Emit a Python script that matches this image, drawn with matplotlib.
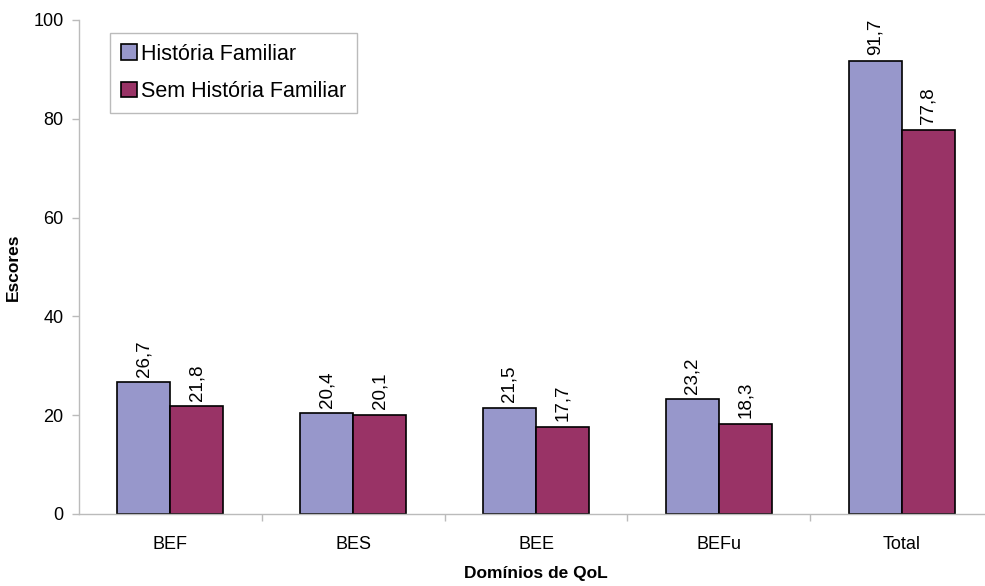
import numpy as np
import matplotlib.pyplot as plt

plt.rcParams['font.family'] = ['Liberation Sans', 'DejaVu Sans']

dominios = ['BEF', 'BES', 'BEE', 'BEFu', 'Total']
historia = [26.7, 20.4, 21.5, 23.2, 91.7]
sem_historia = [21.8, 20.1, 17.7, 18.3, 77.8]

cor_hist = '#9797CB'
cor_sem = '#993366'

fig = plt.figure(figsize=(9.85, 5.86), dpi=100)
ax = fig.add_axes([79/985, 72/586, 914/985, 494/586])

x = np.arange(len(dominios))
w = 0.29
b1 = ax.bar(x - w/2, historia, w, color=cor_hist, edgecolor='black', linewidth=1.2,
            label='História Familiar')
b2 = ax.bar(x + w/2, sem_historia, w, color=cor_sem, edgecolor='black', linewidth=1.2,
            label='Sem História Familiar')

for bars in (b1, b2):
    for r in bars:
        h = r.get_height()
        ax.annotate(('%.1f' % h).replace('.', ','), (r.get_x() + r.get_width()/2, h),
                    xytext=(0, 4), textcoords='offset points', rotation=90,
                    ha='center', va='bottom', fontsize=13.5)

ax.set_xlim(-0.5, len(dominios) - 0.5)
ax.set_ylim(0, 100)
ax.set_yticks([0, 20, 40, 60, 80, 100])
ax.set_xticks(x)
ax.set_xticklabels(dominios)
ax.set_xticks(np.arange(0.5, len(dominios) - 0.5), minor=True)
ax.tick_params(axis='x', which='major', length=0, pad=16, labelsize=13)
ax.tick_params(axis='x', which='minor', length=5, color='#bbbbbb', width=1)
ax.tick_params(axis='y', length=5, color='#bbbbbb', width=1, labelsize=13, pad=6)

for s in ['top', 'right']:
    ax.spines[s].set_visible(False)
for s in ['left', 'bottom']:
    ax.spines[s].set_color('#bbbbbb')
    ax.spines[s].set_linewidth(1)

ax.set_ylabel('Escores', fontweight='bold', fontsize=12.5, labelpad=9)
ax.set_xlabel('Domínios de QoL', fontweight='bold', fontsize=12.5, labelpad=9)

leg = ax.legend(loc='upper left', bbox_to_anchor=(31/914, 1 - 13/494), fontsize=15.5,
                frameon=True, fancybox=False, edgecolor='#aaaaaa', handlelength=0.75,
                handleheight=0.75, handletextpad=0.2, borderpad=0.5, labelspacing=0.75,
                borderaxespad=0)
leg.get_frame().set_linewidth(1)

plt.savefig('out.png', dpi=100)
